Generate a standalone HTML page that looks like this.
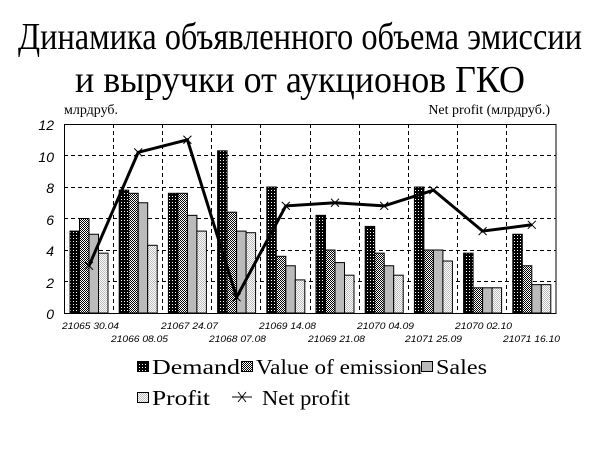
<!DOCTYPE html>
<html><head><meta charset="utf-8"><style>body{margin:0;background:#fff}svg{display:block}.s{font-family:"Liberation Serif","Noto Serif CJK SC",serif}.a{font-family:"Liberation Sans",sans-serif;font-style:italic}</style></head><body>
<svg width="600" height="454" xmlns="http://www.w3.org/2000/svg">
<defs>
<pattern id="pd" width="3" height="3" patternUnits="userSpaceOnUse"><rect width="3" height="3" fill="#000"/><rect x="1" y="1" width="1" height="1" fill="#fff"/></pattern>
<pattern id="pv" width="2" height="2" patternUnits="userSpaceOnUse"><rect width="2" height="2" fill="#fff"/><rect width="1" height="1" fill="#000"/><rect x="1" y="1" width="1" height="1" fill="#000"/></pattern>
<pattern id="pp" width="2" height="2" patternUnits="userSpaceOnUse"><rect width="2" height="2" fill="#fff"/><rect width="1" height="1" fill="#bbb"/><rect x="1" y="1" width="1" height="1" fill="#bbb"/></pattern>
</defs>
<g class="s" fill="#000">
<text x="18" y="49" font-size="38" textLength="564" lengthAdjust="spacingAndGlyphs">Динамика объявленного объема эмиссии</text>
<text x="75" y="92" font-size="38" textLength="450" lengthAdjust="spacingAndGlyphs">и выручки от аукционов ГКО</text>
<text x="64" y="114" font-size="14">млрдруб.</text>
<text x="550" y="114" font-size="14" text-anchor="end">Net profit (млрдруб.)</text>
</g>
<g class="a" font-size="14" text-anchor="end">
<text x="54" y="130">12</text><text x="54" y="162">10</text><text x="54" y="193">8</text><text x="54" y="225">6</text><text x="54" y="256">4</text><text x="54" y="288">2</text><text x="54" y="319">0</text>
</g>
<g stroke="#000" stroke-dasharray="4,3" stroke-width="1">
<line x1="64" x2="556" y1="155.5" y2="155.5"/><line x1="64" x2="556" y1="187.5" y2="187.5"/><line x1="64" x2="556" y1="218.5" y2="218.5"/><line x1="64" x2="556" y1="250.5" y2="250.5"/><line x1="64" x2="556" y1="281.5" y2="281.5"/>
<line x1="113.5" x2="113.5" y1="124" y2="313"/><line x1="162.5" x2="162.5" y1="124" y2="313"/><line x1="211.5" x2="211.5" y1="124" y2="313"/><line x1="260.5" x2="260.5" y1="124" y2="313"/><line x1="310.5" x2="310.5" y1="124" y2="313"/><line x1="359.5" x2="359.5" y1="124" y2="313"/><line x1="408.5" x2="408.5" y1="124" y2="313"/><line x1="457.5" x2="457.5" y1="124" y2="313"/><line x1="506.5" x2="506.5" y1="124" y2="313"/>
</g>
<g stroke="#000" stroke-width="1">
<rect x="70" y="231.1" width="9.5" height="81.9" fill="url(#pd)"/><rect x="79.5" y="218.5" width="9.5" height="94.5" fill="url(#pv)"/><rect x="89" y="234.25" width="9.5" height="78.75" fill="#bbb"/><rect x="98.5" y="253.15" width="9.5" height="59.85" fill="url(#pp)"/>
<rect x="119.2" y="190.15" width="9.5" height="122.85" fill="url(#pd)"/><rect x="128.7" y="193.3" width="9.5" height="119.7" fill="url(#pv)"/><rect x="138.2" y="202.75" width="9.5" height="110.25" fill="#bbb"/><rect x="147.7" y="245.3" width="9.5" height="67.7" fill="url(#pp)"/>
<rect x="168.4" y="193.3" width="9.5" height="119.7" fill="url(#pd)"/><rect x="177.9" y="193.3" width="9.5" height="119.7" fill="url(#pv)"/><rect x="187.4" y="215.35" width="9.5" height="97.65" fill="#bbb"/><rect x="196.9" y="231.1" width="9.5" height="81.9" fill="url(#pp)"/>
<rect x="217.6" y="150.8" width="9.5" height="162.2" fill="url(#pd)"/><rect x="227.1" y="212.2" width="9.5" height="100.8" fill="url(#pv)"/><rect x="236.6" y="231.1" width="9.5" height="81.9" fill="#bbb"/><rect x="246.1" y="232.7" width="9.5" height="80.3" fill="url(#pp)"/>
<rect x="266.8" y="187" width="9.5" height="126" fill="url(#pd)"/><rect x="276.3" y="256.3" width="9.5" height="56.7" fill="url(#pv)"/><rect x="285.8" y="265.75" width="9.5" height="47.25" fill="#bbb"/><rect x="295.3" y="279.9" width="9.5" height="33.1" fill="url(#pp)"/>
<rect x="316" y="215.35" width="9.5" height="97.65" fill="url(#pd)"/><rect x="325.5" y="250" width="9.5" height="63" fill="url(#pv)"/><rect x="335" y="262.6" width="9.5" height="50.4" fill="#bbb"/><rect x="344.5" y="275.2" width="9.5" height="37.8" fill="url(#pp)"/>
<rect x="365.2" y="226.4" width="9.5" height="86.6" fill="url(#pd)"/><rect x="374.7" y="253.15" width="9.5" height="59.85" fill="url(#pv)"/><rect x="384.2" y="265.75" width="9.5" height="47.25" fill="#bbb"/><rect x="393.7" y="275.2" width="9.5" height="37.8" fill="url(#pp)"/>
<rect x="414.4" y="187" width="9.5" height="126" fill="url(#pd)"/><rect x="423.9" y="250" width="9.5" height="63" fill="url(#pv)"/><rect x="433.4" y="250" width="9.5" height="63" fill="#bbb"/><rect x="442.9" y="261" width="9.5" height="52" fill="url(#pp)"/>
<rect x="463.6" y="253.15" width="9.5" height="59.85" fill="url(#pd)"/><rect x="473.1" y="287.8" width="9.5" height="25.2" fill="url(#pv)"/><rect x="482.6" y="287.8" width="9.5" height="25.2" fill="#bbb"/><rect x="492.1" y="287.8" width="9.5" height="25.2" fill="url(#pp)"/>
<rect x="512.8" y="234.25" width="9.5" height="78.75" fill="url(#pd)"/><rect x="522.3" y="265.75" width="9.5" height="47.25" fill="url(#pv)"/><rect x="531.8" y="284.65" width="9.5" height="28.35" fill="#bbb"/><rect x="541.3" y="284.65" width="9.5" height="28.35" fill="url(#pp)"/>
</g>
<rect x="64.5" y="124.5" width="491.5" height="189" fill="none" stroke="#000"/>
<polyline fill="none" stroke="#000" stroke-width="3" points="89,265.75 138.2,152.35 187.4,139.75 236.6,297.25 285.8,205.9 335,202.75 384.2,205.9 433.4,190.15 482.6,231.1 531.8,224.8"/>
<g stroke="#000" stroke-width="1" fill="none">
<path d="M85 261.75l8 8m0-8l-8 8M134.2 148.35l8 8m0-8l-8 8M183.4 135.75l8 8m0-8l-8 8M232.6 293.25l8 8m0-8l-8 8M281.8 201.9l8 8m0-8l-8 8M331 198.75l8 8m0-8l-8 8M380.2 201.9l8 8m0-8l-8 8M429.4 186.15l8 8m0-8l-8 8M478.6 227.1l8 8m0-8l-8 8M527.8 220.8l8 8m0-8l-8 8"/>
</g>
<g class="a" font-size="9.5">
<text x="62" y="329" textLength="57" lengthAdjust="spacingAndGlyphs">21065  30.04</text><text x="111" y="342" textLength="57" lengthAdjust="spacingAndGlyphs">21066  08.05</text>
<text x="161" y="329" textLength="57" lengthAdjust="spacingAndGlyphs">21067  24.07</text><text x="209" y="342" textLength="57" lengthAdjust="spacingAndGlyphs">21068  07.08</text>
<text x="259" y="329" textLength="57" lengthAdjust="spacingAndGlyphs">21069  14.08</text><text x="308" y="342" textLength="57" lengthAdjust="spacingAndGlyphs">21069  21.08</text>
<text x="357" y="329" textLength="57" lengthAdjust="spacingAndGlyphs">21070  04.09</text><text x="405" y="342" textLength="57" lengthAdjust="spacingAndGlyphs">21071  25.09</text>
<text x="455" y="329" textLength="57" lengthAdjust="spacingAndGlyphs">21070  02.10</text><text x="503" y="342" textLength="57" lengthAdjust="spacingAndGlyphs">21071  16.10</text>
</g>
<g class="s" font-size="21">
<rect x="137.5" y="361.5" width="11" height="10" fill="url(#pd)" stroke="#000"/><text x="152" y="374" textLength="88" lengthAdjust="spacingAndGlyphs">Demand</text>
<rect x="241.5" y="361.5" width="11" height="10" fill="url(#pv)" stroke="#000"/><text x="256" y="374" textLength="166" lengthAdjust="spacingAndGlyphs">Value of emission</text>
<rect x="421.5" y="361.5" width="11" height="10" fill="#bbb" stroke="#000"/><text x="436" y="374" textLength="51" lengthAdjust="spacingAndGlyphs">Sales</text>
<rect x="137.5" y="392.5" width="11" height="10" fill="url(#pp)" stroke="#000"/><text x="152" y="405" textLength="58" lengthAdjust="spacingAndGlyphs">Profit</text>
<line x1="232" x2="252" y1="397" y2="397" stroke="#000"/><path d="M238 392L246 402M246 392L238 402" stroke="#000"/><text x="262" y="405" textLength="88" lengthAdjust="spacingAndGlyphs">Net profit</text>
</g>
</svg>
</body></html>
